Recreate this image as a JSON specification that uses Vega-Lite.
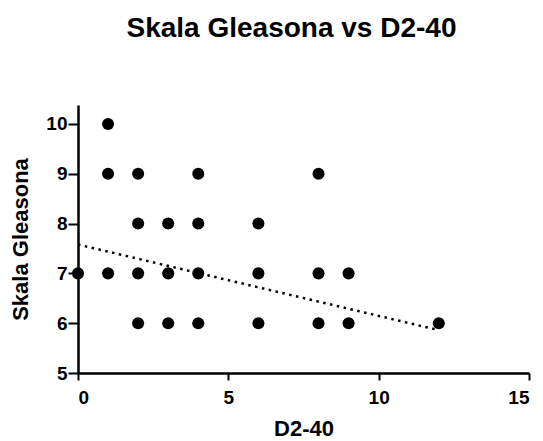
{
  "$schema": "https://vega.github.io/schema/vega-lite/v6.json",
  "autosize": "none",
  "width": 451,
  "height": 268,
  "padding": {"left": 78, "top": 105, "right": 14, "bottom": 68},
  "background": "white",
  "config": {
    "view": {"stroke": null},
    "font": "Liberation Sans",
    "axis": {
      "grid": false,
      "domainColor": "black",
      "domainWidth": 2.5,
      "tickColor": "black",
      "tickWidth": 2,
      "labelColor": "black",
      "labelFont": "Liberation Sans",
      "labelFontWeight": "bold",
      "labelFontSize": 19,
      "titleColor": "black",
      "titleFont": "Liberation Sans",
      "titleFontWeight": "bold",
      "titleFontSize": 22
    }
  },
  "title": {
    "text": "Skala Gleasona vs D2-40",
    "font": "Liberation Sans",
    "fontSize": 28,
    "fontWeight": "bold",
    "color": "black",
    "anchor": "middle",
    "dx": -12,
    "offset": 62
  },
  "datasets": {
    "points": [
      {"d240": 0, "gleason": 7},
      {"d240": 1, "gleason": 10},
      {"d240": 1, "gleason": 9},
      {"d240": 1, "gleason": 7},
      {"d240": 2, "gleason": 9},
      {"d240": 2, "gleason": 8},
      {"d240": 2, "gleason": 7},
      {"d240": 2, "gleason": 6},
      {"d240": 3, "gleason": 8},
      {"d240": 3, "gleason": 7},
      {"d240": 3, "gleason": 6},
      {"d240": 4, "gleason": 9},
      {"d240": 4, "gleason": 8},
      {"d240": 4, "gleason": 7},
      {"d240": 4, "gleason": 6},
      {"d240": 6, "gleason": 8},
      {"d240": 6, "gleason": 7},
      {"d240": 6, "gleason": 6},
      {"d240": 8, "gleason": 9},
      {"d240": 8, "gleason": 7},
      {"d240": 8, "gleason": 6},
      {"d240": 9, "gleason": 7},
      {"d240": 9, "gleason": 6},
      {"d240": 12, "gleason": 6}
    ],
    "fit": [
      {"d240": 0, "gleason": 7.58},
      {"d240": 12, "gleason": 5.86}
    ]
  },
  "layer": [
    {
      "data": {"name": "fit"},
      "mark": {"type": "line", "color": "black", "strokeWidth": 2.5, "strokeDash": [2.5, 4.5], "clip": false},
      "encoding": {
        "x": {"field": "d240", "type": "quantitative"},
        "y": {"field": "gleason", "type": "quantitative"}
      }
    },
    {
      "data": {"name": "points"},
      "mark": {"type": "circle", "color": "black", "opacity": 1, "size": 145, "clip": false},
      "encoding": {
        "x": {
          "field": "d240",
          "type": "quantitative",
          "title": "D2-40",
          "scale": {"domain": [0, 15], "nice": false, "zero": false},
          "axis": {"values": [0, 5, 10, 15], "tickSize": 7, "labelPadding": 8, "titlePadding": 11}
        },
        "y": {
          "field": "gleason",
          "type": "quantitative",
          "title": "Skala Gleasona",
          "scale": {"domain": [5, 10.38], "nice": false, "zero": false},
          "axis": {"values": [5, 6, 7, 8, 9, 10], "tickSize": 10, "labelPadding": 1, "titlePadding": 13}
        }
      }
    }
  ]
}
